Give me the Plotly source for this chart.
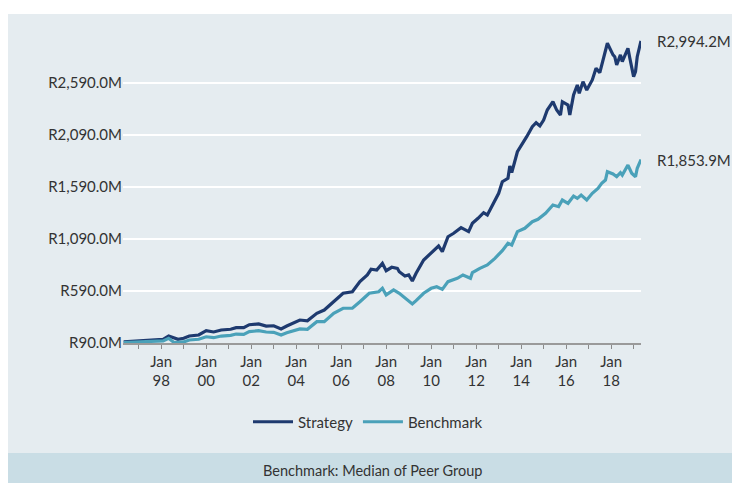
import plotly.graph_objects as go

# ---------------- data ----------------
strategy_dates = [
    "1996-05", "1997-02", "1997-09", "1998-02", "1998-05", "1998-07", "1998-10", "1999-01", "1999-04", "1999-09",
    "2000-01", "2000-05", "2000-09", "2001-02", "2001-05", "2001-09", "2001-12", "2002-05", "2002-09", "2003-01",
    "2003-05", "2003-08", "2003-11", "2004-03", "2004-07", "2004-12", "2005-04", "2005-09", "2006-02", "2006-07",
    "2006-11", "2007-03", "2007-05", "2007-08", "2007-11", "2008-01", "2008-04", "2008-07", "2008-08", "2008-11",
    "2009-01", "2009-03", "2009-05", "2009-09", "2009-12", "2010-05", "2010-07", "2010-10", "2011-01", "2011-05",
    "2011-09", "2011-11", "2012-02", "2012-05", "2012-07", "2012-10", "2013-01", "2013-03", "2013-06", "2013-07",
    "2013-08", "2013-11", "2014-02", "2014-04", "2014-07", "2014-09", "2014-11", "2015-01", "2015-03", "2015-06",
    "2015-08", "2015-10", "2015-11", "2016-02", "2016-03", "2016-05", "2016-07", "2016-08", "2016-10", "2016-12",
    "2017-03", "2017-05", "2017-07", "2017-09", "2017-11", "2018-02", "2018-03", "2018-04", "2018-06", "2018-07",
    "2018-10", "2018-11", "2019-01", "2019-02", "2019-03", "2019-05",
]
strategy_values = [
    100, 110, 120, 125, 157, 145, 125, 135, 157, 167,
    208, 196, 215, 222, 237, 237, 266, 273, 253, 256,
    225, 253, 279, 311, 304, 376, 407, 487, 568, 583,
    680, 744, 799, 792, 856, 785, 818, 808, 775, 734,
    744, 686, 760, 888, 936, 1023, 968, 1112, 1145, 1199,
    1161, 1241, 1289, 1343, 1321, 1433, 1529, 1641, 1674, 1792,
    1728, 1929, 2010, 2074, 2170, 2208, 2177, 2234, 2330, 2410,
    2330, 2282, 2410, 2378, 2282, 2475, 2571, 2491, 2603, 2523,
    2619, 2731, 2690, 2828, 2972, 2860, 2843, 2763, 2860, 2795,
    2924, 2828, 2651, 2700, 2843, 2994.2,
]

benchmark_dates = [
    "1996-05", "1997-09", "1998-02", "1998-05", "1998-08", "1999-01", "1999-04", "1999-09", "2000-01", "2000-05",
    "2000-09", "2001-02", "2001-05", "2001-09", "2001-12", "2002-05", "2002-09", "2003-01", "2003-05", "2003-08",
    "2003-11", "2004-03", "2004-07", "2004-12", "2005-04", "2005-09", "2006-02", "2006-07", "2006-11", "2007-04",
    "2007-09", "2007-11", "2008-01", "2008-05", "2008-08", "2008-11", "2009-03", "2009-05", "2009-09", "2010-01",
    "2010-04", "2010-07", "2010-10", "2011-03", "2011-06", "2011-10", "2011-11", "2012-03", "2012-07", "2012-11",
    "2013-03", "2013-06", "2013-08", "2013-11", "2014-03", "2014-07", "2014-10", "2015-02", "2015-06", "2015-09",
    "2015-11", "2016-02", "2016-05", "2016-07", "2016-09", "2016-12", "2017-03", "2017-06", "2017-08", "2017-10",
    "2017-11", "2018-02", "2018-04", "2018-06", "2018-07", "2018-10", "2018-12", "2019-02", "2019-03", "2019-05",
]
benchmark_values = [
    95, 103, 110, 135, 93, 100, 119, 126, 150, 141,
    157, 164, 176, 173, 199, 208, 196, 193, 167, 189,
    205, 225, 222, 295, 295, 376, 424, 424, 487, 568,
    583, 616, 552, 600, 568, 520, 465, 497, 568, 616,
    631, 606, 680, 712, 744, 712, 766, 808, 840, 904,
    978, 1049, 1032, 1161, 1193, 1256, 1279, 1337, 1417, 1401,
    1465, 1433, 1503, 1481, 1513, 1465, 1529, 1577, 1625, 1657,
    1737, 1715, 1689, 1728, 1705, 1801, 1722, 1689, 1770, 1853.9,
]

series_names = ["Strategy", "Benchmark"]
y_tick_values = [90, 590, 1090, 1590, 2090, 2590]
y_tick_labels = ["R90.0M", "R590.0M", "R1,090.0M", "R1,590.0M", "R2,090.0M", "R2,590.0M"]
x_tick_years = list(range(1997, 2020))
x_tick_labels = [("Jan<br>%02d" % (y % 100)) if y % 2 == 0 else "" for y in x_tick_years]
end_labels = ["R2,994.2M", "R1,853.9M"]
footer_text = "Benchmark: Median of Peer Group"

# ---------------- layout geometry (page pixels; body margin removed below) ----------------
W, H = 732, 483
ML, MR, MT, MB = 123, 91, 35, 140
PW, PH = W - ML - MR, H - MT - MB


def px_x(p):
    return (p - ML) / PW


def px_y(p):
    return (H - MB - p) / PH


STRAT_COLOR = "#1e3a6f"
BENCH_COLOR = "#4aa1b9"
PANEL = "#e5ecf0"
FOOTER = "#c9dde5"
TEXT = "#333333"
FONT = "Lato"

fig = go.Figure()
fig.add_trace(go.Scatter(x=strategy_dates, y=strategy_values, mode="lines", name=series_names[0],
                         line=dict(color=STRAT_COLOR, width=3.2)))
fig.add_trace(go.Scatter(x=benchmark_dates, y=benchmark_values, mode="lines", name=series_names[1],
                         line=dict(color=BENCH_COLOR, width=3.2)))

fig.add_annotation(x=1, xref="paper", y=strategy_values[-1], yref="y", text=end_labels[0],
                   xanchor="left", xshift=14, showarrow=False, font=dict(size=15, color=TEXT, family=FONT))
fig.add_annotation(x=1, xref="paper", y=benchmark_values[-1], yref="y", text=end_labels[1],
                   xanchor="left", xshift=14, showarrow=False, font=dict(size=15, color=TEXT, family=FONT))
fig.add_annotation(x=px_x(372), xref="paper", y=px_y(470), yref="paper", text=footer_text,
                   xanchor="center", yanchor="middle", showarrow=False,
                   font=dict(size=14.5, color=TEXT, family=FONT))

fig.add_shape(type="rect", xref="paper", yref="paper", x0=px_x(8), x1=px_x(W + 2), y0=px_y(453), y1=px_y(14),
              fillcolor=PANEL, line=dict(width=0), layer="below")
fig.add_shape(type="rect", xref="paper", yref="paper", x0=px_x(8), x1=px_x(W + 2), y0=px_y(H + 2), y1=px_y(453),
              fillcolor=FOOTER, line=dict(width=0), layer="below")

fig.update_layout(
    width=W, height=H,
    margin=dict(l=ML, r=MR, t=MT, b=MB),
    paper_bgcolor="white",
    plot_bgcolor="rgba(0,0,0,0)",
    font=dict(family=FONT, size=14, color=TEXT),
    showlegend=True,
    legend=dict(orientation="h", x=px_x(368), xanchor="center", y=px_y(422), yanchor="middle",
                bgcolor="rgba(0,0,0,0)", font=dict(size=15, color=TEXT, family=FONT),
                itemwidth=40, tracegroupgap=0),
    xaxis=dict(
        type="date",
        range=["1996-04-20", "2019-05-01"],
        tickmode="array",
        tickvals=["%d-01-01" % y for y in x_tick_years],
        ticktext=x_tick_labels,
        ticks="outside", ticklen=4, tickwidth=1, tickcolor="#8a8a8a",
        showline=True, linecolor="#9a9a9a", linewidth=1.5,
        showgrid=False, zeroline=False,
        tickfont=dict(size=15, color=TEXT, family=FONT),
    ),
    yaxis=dict(
        range=[90, 90 + (H - MB - MT) / 0.104],
        tickmode="array",
        tickvals=y_tick_values,
        ticktext=y_tick_labels,
        showgrid=True, gridcolor="white", gridwidth=1.5,
        zeroline=False, showline=False, ticks="",
        tickfont=dict(size=15, color=TEXT, family=FONT),
    ),
)

fig.write_html(
    "out.html",
    config={"displayModeBar": False},
    post_script="document.body.style.margin='0';document.body.style.overflow='hidden';",
)
